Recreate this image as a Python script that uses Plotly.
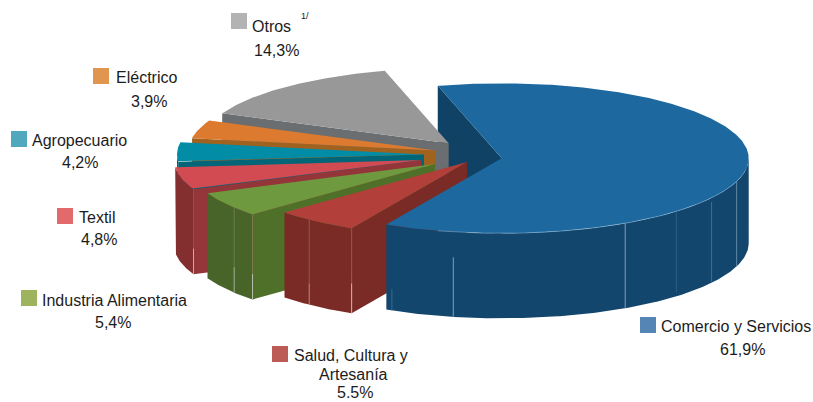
import numpy as np
import plotly.graph_objects as go

# ---- data ----
categories = ["Comercio y Servicios", "Salud, Cultura y Artesanía", "Industria Alimentaria",
              "Textil", "Agropecuario", "Eléctrico", "Otros"]
shares = [61.9, 5.5, 5.4, 4.8, 4.2, 3.9, 14.3]
share_labels = ["61,9%", "5.5%", "5,4%", "4,8%", "4,2%", "3,9%", "14,3%"]

# ---- pie styling ----
START = 345.0          # clockwise from 12 o'clock
RX, RY, DEPTH = 247.0, 75.0, 85.0
explode_x = [501.7, 467, 435, 421, 424, 435.7, 448.7]
explode_y = [158.3, 162, 164, 160, 154.5, 150.5, 143.3]
top_col = ["#1C689F", "#B33F3A", "#6F993E", "#D24A52", "#038CA5", "#DC7B2F", "#989898"]
arc_col = ["#13466D", "#7B2B26", "#486428", "#842F2F", "#026678", "#9E5F22", "#6A6E70"]
rad_col = ["#0F4265", "#7B2B26", "#4F7028", "#943539", "#026678", "#A0621F", "#6A6E70"]
swatch_col = ["#5585B5", "#BC5B55", "#9DB35E", "#E26A6A", "#50A8BF", "#E1964F", "#B3B3B3"]

fig = go.Figure()


def poly(xs, ys, color):
    fig.add_trace(go.Scatter(x=xs, y=ys, mode="lines", fill="toself", fillcolor=color,
                             line=dict(width=0, color=color), hoverinfo="skip", showlegend=False))


def pt(i, a):
    r = np.radians(a)
    return explode_x[i] + RX * np.sin(r), explode_y[i] - RY * np.cos(r)


# clockwise angle extents derived from the shares
ang = [START]
for s in shares:
    ang.append(ang[-1] + s * 3.6)
spans = [(ang[i], ang[i + 1]) for i in range(len(shares))]


def top(i):
    a0, a1 = spans[i]
    t = np.linspace(a0, a1, max(int(a1 - a0) * 2, 8))
    x, y = pt(i, t)
    poly([explode_x[i], *x, explode_x[i]], [explode_y[i], *y, explode_y[i]], top_col[i])


def radial(i, a, color):
    x, y = pt(i, a)
    ax, ay = explode_x[i], explode_y[i]
    poly([ax, x, x, ax, ax], [ay, y, y + DEPTH, ay + DEPTH, ay], color)


def arc(i):
    a0, a1 = spans[i]
    # front-facing range is 90..270 modulo 360
    for k in (0, 360):
        lo, hi = max(a0, 90 + k), min(a1, 270 + k)
        if hi > lo:
            t = np.linspace(lo, hi, max(int(hi - lo) * 2, 4))
            x, y = pt(i, t)
            poly([*x, *x[::-1], x[0]], [*y, *(y[::-1] + DEPTH), y[0]], arc_col[i])


def seam(i, a, f0, f1, color, w=1):
    x, y = pt(i, a)
    fig.add_trace(go.Scatter(x=[x, x], y=[y + f0 * DEPTH, y + f1 * DEPTH], mode="lines",
                             line=dict(width=w, color=color), hoverinfo="skip", showlegend=False))


# back wall of the big slice sits behind everything
radial(0, spans[0][0], rad_col[0])

for i in (6, 5, 4, 3, 2, 1):
    radial(i, spans[i][0], rad_col[i])
    arc(i)
    top(i)
    if i == 3:
        seam(3, spans[3][0], 0, 0.7, "#7a5a5a")
        seam(3, spans[3][0], 0.7, 1, "#c9a9a9")
    if i == 2:
        seam(2, 234.4, 0, 0.7, "#6b7a50")
        seam(2, 234.4, 0.7, 1, "#a3b096")
        seam(2, spans[2][0], 0, 0.7, "#7f7a50")
        seam(2, spans[2][0], 0.7, 1, "#b6bda8")
    if i == 1:
        seam(1, 219.7, 0, 0.75, "#94564f")
        seam(1, 219.7, 0.75, 1, "#b58a85")
        seam(1, spans[1][0], 0, 0.65, "#94564f")
        seam(1, spans[1][0], 0.65, 1, "#d2b0ac")

arc(0)
top(0)
seam(0, 206.4, 0.75, 1, "#3a6a8c")
seam(0, 191.3, 0.3, 1, "#7f9fb6")
seam(0, 150, 0, 1, "#7f9fb6")
seam(0, 135, 0, 0.95, "#2d5f86")
seam(0, 121.8, 0.05, 1, "#3f7195")
seam(0, 108, 0, 1, "#5b88a8")

rim = np.linspace(100, 195, 90)
rx, ry = pt(0, rim)
fig.add_trace(go.Scatter(x=rx, y=ry, mode="lines", line=dict(width=1, color="rgba(140,185,215,0.5)"),
                         hoverinfo="skip", showlegend=False))

# ---- legend-style labels ----
swatch_x = [648, 280, 29, 65, 19, 101, 239]
swatch_y = [325, 354, 298, 216, 139, 76, 21]
fig.add_trace(go.Scatter(x=swatch_x, y=swatch_y, mode="markers",
                         marker=dict(symbol="square", size=16, color=swatch_col, line=dict(width=0)),
                         hoverinfo="skip", showlegend=False))

FONT = dict(family="Liberation Sans, Arial, sans-serif", size=16, color="#1c1c1c")


def text(x, y, s, anchor="left", font=FONT):
    fig.add_annotation(x=x, y=y, text=s, showarrow=False, xanchor=anchor, yanchor="middle",
                       font=font, xref="x", yref="y", align=anchor, borderpad=0, borderwidth=0)


name_pos = [(661, 326), (294, 355), (42, 300), (79, 217), (32, 140), (116, 77), (252, 26)]
pct_pos = [(742, 349), (355, 392), (113, 322), (99, 239), (80, 162), (149, 101), (276, 50)]
for i, c in enumerate(categories):
    if i == 1:
        text(294, 355, "Salud, Cultura y")
        text(353, 374, "Artesanía", "center")
    else:
        text(name_pos[i][0], name_pos[i][1], c)
    text(pct_pos[i][0], pct_pos[i][1], share_labels[i], "center")
text(301, 16, "1/", font=dict(family=FONT["family"], size=9, color="#1c1c1c"))

fig.update_layout(width=813, height=402, margin=dict(l=0, r=0, t=0, b=0),
                  paper_bgcolor="white", plot_bgcolor="white", showlegend=False,
                  xaxis=dict(range=[0, 813], visible=False, fixedrange=True),
                  yaxis=dict(range=[402, 0], visible=False, fixedrange=True))

fig.write_html("out.html", post_script="document.body.style.margin='0';",
               config={"displayModeBar": False})
